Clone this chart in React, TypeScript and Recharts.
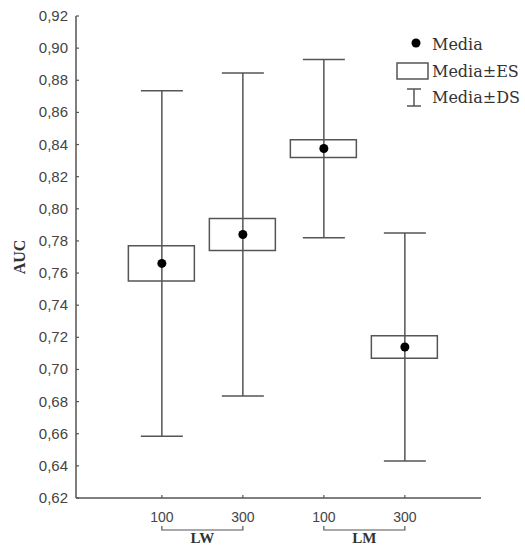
import { ComposedChart, XAxis, YAxis, Bar, Scatter, ErrorBar } from 'recharts'

const groups = ['LW', 'LM']
const sizes = ['100', '300', '100', '300']
const means = [0.766, 0.784, 0.8375, 0.714]
const se = [0.011, 0.01, 0.0055, 0.007]
const sd = [0.1075, 0.1005, 0.0555, 0.071]
const yTicks = [0.62, 0.64, 0.66, 0.68, 0.7, 0.72, 0.74, 0.76, 0.78, 0.8, 0.82, 0.84, 0.86, 0.88, 0.9, 0.92]
const legendLabels = ['Media', 'Media±ES', 'Media±DS']

const W = 525
const H = 547
const MARGIN = { top: 16, right: 44, left: 0, bottom: 19 }
const Y_AXIS_W = 76
const X_AXIS_H = 30
const X_DOMAIN: [number, number] = [-0.06, 4.94]
const PLOT_W = W - MARGIN.left - MARGIN.right - Y_AXIS_W
const STEP = PLOT_W / (X_DOMAIN[1] - X_DOMAIN[0])

const LINE = '#555'
const TEXT = '#444'

const rows = sizes.map((size, i) => ({
  pos: i + 1,
  size,
  mean: means[i],
  seRange: [means[i] - se[i], means[i] + se[i]],
  sdErr: [sd[i], sd[i]],
}))

const fmt = (v: number) => v.toFixed(2).replace('.', ',')

function YTick({ x, y, payload }: any) {
  return (
    <g>
      <line x1={x + 8} y1={y} x2={x + 11} y2={y} stroke={LINE} strokeWidth={1.2} />
      <text x={x} y={y} dy={5} textAnchor="end" fontSize={15} fill={TEXT} fontFamily="'Liberation Sans', Arial, sans-serif">
        {fmt(payload.value)}
      </text>
    </g>
  )
}

function XTick({ x, y, index }: any) {
  const first = index % 2 === 0
  return (
    <g>
      <line x1={x} y1={y} x2={x} y2={y - 3} stroke={LINE} strokeWidth={1.2} />
      <text x={x} y={y + 24} textAnchor="middle" fontSize={14} fill={TEXT} fontFamily="'Liberation Sans', Arial, sans-serif">
        {sizes[index]}
      </text>
      {first && (
        <g>
          <path d={`M${x},${y + 28} V${y + 32} H${x + STEP} V${y + 28}`} fill="none" stroke={LINE} strokeWidth={1.2} />
          <text x={x + STEP / 2} y={y + 45} textAnchor="middle" fontSize={15} fontWeight="bold" fill="#333" fontFamily="'Liberation Serif', serif">
            {groups[index / 2]}
          </text>
        </g>
      )}
    </g>
  )
}

function AucLabel({ viewBox }: any) {
  const cx = viewBox.x + 20
  const cy = viewBox.y + viewBox.height / 2
  return (
    <text x={cx} y={cy} transform={`rotate(-90 ${cx} ${cy})`} dy={5} textAnchor="middle" fontSize={16} fontWeight="bold" fill="#333" fontFamily="'Liberation Serif', serif">
      AUC
    </text>
  )
}

function Legend() {
  const font = { fontFamily: "'DejaVu Serif', serif", fontSize: 16, fill: '#333' }
  return (
    <svg width={130} height={90} style={{ position: 'absolute', left: 395, top: 25 }}>
      <circle cx={21} cy={18} r={4.5} fill="#000" />
      <text x={37} y={25} {...font}>{legendLabels[0]}</text>
      <rect x={2} y={38} width={31} height={16} fill="#fff" stroke={LINE} strokeWidth={1.5} />
      <text x={37} y={52} {...font}>{legendLabels[1]}</text>
      <path d="M12,64 H26 M19,64 V81 M12,81 H26" stroke={LINE} strokeWidth={1.5} fill="none" />
      <text x={37} y={78} {...font}>{legendLabels[2]}</text>
    </svg>
  )
}

export default function App() {
  return (
    <div style={{ position: 'absolute', left: 0, top: 0, width: W, height: H, background: '#fff' }}>
      <ComposedChart width={W} height={H} data={rows} margin={MARGIN}>
        <XAxis
          dataKey="pos"
          type="number"
          domain={X_DOMAIN}
          ticks={[1, 2, 3, 4]}
          height={X_AXIS_H}
          tickLine={false}
          tickSize={0}
          tickMargin={0}
          axisLine={{ stroke: LINE, strokeWidth: 1.5 }}
          tick={<XTick />}
          interval={0}
        />
        <YAxis
          type="number"
          domain={[0.62, 0.92]}
          ticks={yTicks}
          width={Y_AXIS_W}
          tickLine={false}
          tickSize={0}
          tickMargin={8}
          axisLine={{ stroke: LINE, strokeWidth: 1.5 }}
          tick={<YTick />}
          interval={0}
          label={<AucLabel />}
        />
        <Scatter dataKey="mean" shape={() => <g />} isAnimationActive={false}>
          <ErrorBar dataKey="sdErr" direction="y" width={21} stroke={LINE} strokeWidth={1.5} isAnimationActive={false} />
        </Scatter>
        <Bar dataKey="seRange" barSize={66} fill="#fff" stroke={LINE} strokeWidth={1.5} isAnimationActive={false} />
        <Scatter
          dataKey="mean"
          shape={(p: any) => <circle cx={p.cx} cy={p.cy} r={4.5} fill="#000" />}
          isAnimationActive={false}
        />
      </ComposedChart>
      <Legend />
    </div>
  )
}
